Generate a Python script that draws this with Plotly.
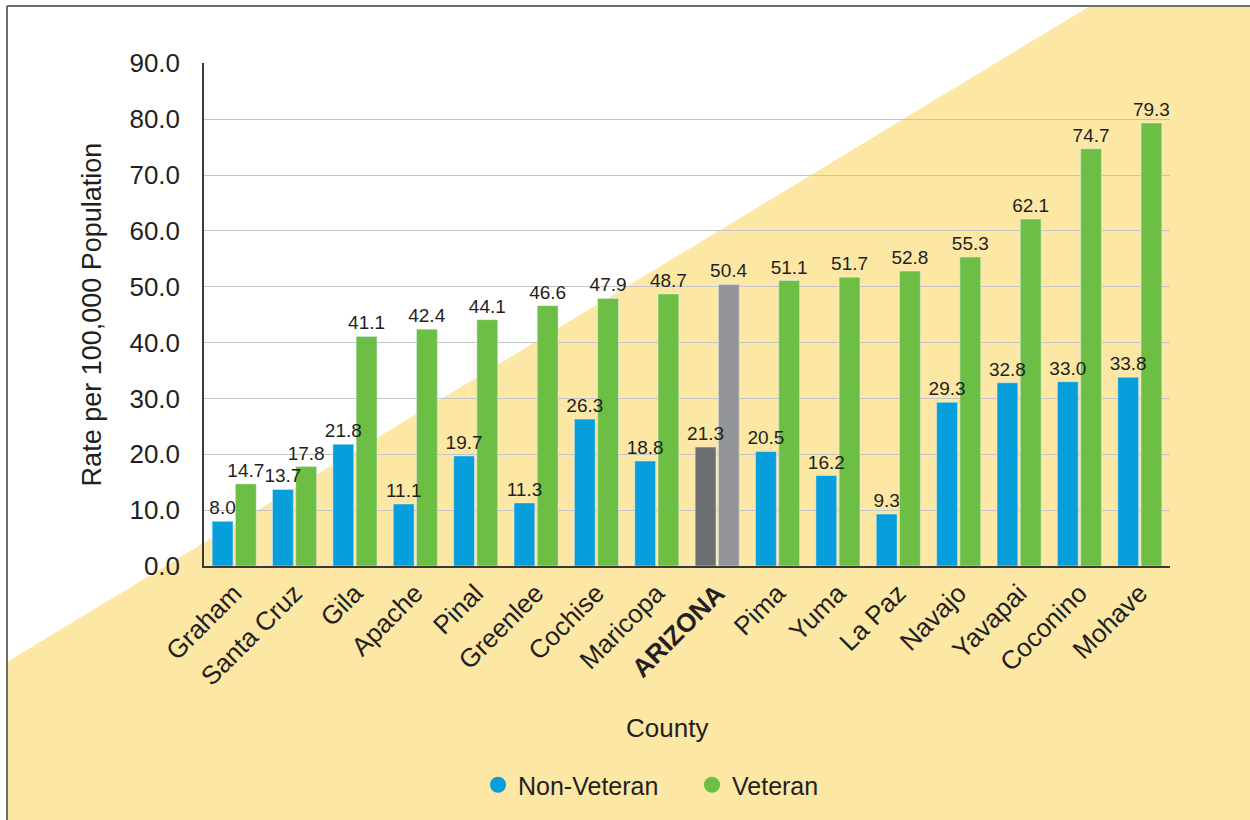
import plotly.graph_objects as go

counties = ["Graham", "Santa Cruz", "Gila", "Apache", "Pinal", "Greenlee", "Cochise",
            "Maricopa", "ARIZONA", "Pima", "Yuma", "La Paz", "Navajo", "Yavapai",
            "Coconino", "Mohave"]
non_veteran = [8.0, 13.7, 21.8, 11.1, 19.7, 11.3, 26.3, 18.8, 21.3, 20.5, 16.2, 9.3,
               29.3, 32.8, 33.0, 33.8]
veteran = [14.7, 17.8, 41.1, 42.4, 44.1, 46.6, 47.9, 48.7, 50.4, 51.1, 51.7, 52.8,
           55.3, 62.1, 74.7, 79.3]
tick_labels = [("<b>%s</b>" % c if c == "ARIZONA" else c) for c in counties]

BLUE = "#069FDB"
GREEN = "#6DBE45"
DARK_GREY = "#6D6E71"
LIGHT_GREY = "#939598"
TEXT = "#231F20"
FONT = "Liberation Sans, Arial, sans-serif"

nv_colors = [DARK_GREY if c == "ARIZONA" else BLUE for c in counties]
v_colors = [LIGHT_GREY if c == "ARIZONA" else GREEN for c in counties]

fig = go.Figure()
# veteran drawn first so the non-veteran labels sit on top of the green bars
fig.add_trace(go.Bar(x=counties, y=veteran, marker_color=v_colors,
                     offset=0.02, width=0.345,
                     text=[f"{v:.1f}" for v in veteran], textposition="outside",
                     constraintext="none",
                     textfont=dict(size=19, color=TEXT, family=FONT),
                     cliponaxis=False, showlegend=False, name="Veteran"))
fig.add_trace(go.Bar(x=counties, y=non_veteran, marker_color=nv_colors,
                     offset=-0.365, width=0.345,
                     text=[f"{v:.1f}" for v in non_veteran], textposition="outside",
                     constraintext="none",
                     textfont=dict(size=19, color=TEXT, family=FONT),
                     cliponaxis=False, showlegend=False, name="Non-Veteran"))
# legend entries with round markers
fig.add_trace(go.Scatter(x=[None], y=[None], mode="markers", name="Non-Veteran",
                         marker=dict(symbol="circle", size=18, color=BLUE)))
fig.add_trace(go.Scatter(x=[None], y=[None], mode="markers", name="Veteran",
                         marker=dict(symbol="circle", size=18, color=GREEN)))

# page geometry helpers (plot area 204..1170 x, 63..566 y)
L, R, T, B = 204, 1170, 63, 566
def px(x):
    return (x - L) / (R - L)
def py(y):
    return (B - y) / (B - T)

yellow_path = (f"M {px(7)},{py(662)} L {px(1090)},{py(6)} L {px(1250)},{py(6)} "
               f"L {px(1250)},{py(820)} L {px(7)},{py(820)} Z")

fig.update_layout(
    width=1250, height=820,
    margin=dict(l=L, r=1250 - R, t=T, b=820 - B, autoexpand=False),
    paper_bgcolor="white",
    plot_bgcolor="rgba(0,0,0,0)",
    font=dict(family=FONT, color=TEXT),
    barmode="overlay",
    shapes=[
        dict(type="path", xref="paper", yref="paper", path=yellow_path,
             fillcolor="#FDE7A5", line=dict(width=0), layer="below"),
        dict(type="line", xref="paper", yref="paper", x0=px(7), x1=px(1250),
             y0=py(6), y1=py(6), line=dict(color="#6D6D6D", width=2)),
        dict(type="line", xref="paper", yref="paper", x0=px(7), x1=px(7),
             y0=py(6), y1=py(820), line=dict(color="#6D6D6D", width=2)),
    ],
    xaxis=dict(tickmode="array", tickvals=counties, ticktext=tick_labels,
               tickangle=-45, tickfont=dict(size=26, color=TEXT),
               showline=True, linecolor="#3A3A3A", linewidth=1.5,
               showgrid=False, ticks=""),
    yaxis=dict(range=[0, 90.05], tickmode="array",
               tickvals=[0, 10, 20, 30, 40, 50, 60, 70, 80, 90], tickformat=".1f",
               tickfont=dict(size=26, color=TEXT),
               showgrid=True, gridcolor="#C4C4C4", gridwidth=1.2,
               showline=True, linecolor="#3A3A3A", linewidth=1.5,
               ticks="", ticklabelstandoff=17, zeroline=False,
               title=dict(text="Rate per 100,000 Population",
                          font=dict(size=27, color=TEXT), standoff=20)),
    legend=dict(orientation="h", x=px(478), xanchor="left", y=py(785),
                yanchor="middle", font=dict(size=25, color=TEXT),
                bgcolor="rgba(0,0,0,0)", itemwidth=30,
                entrywidth=169, entrywidthmode="pixels"),
    annotations=[dict(text="County", xref="paper", yref="paper", x=px(667), y=py(728),
                      xanchor="center", yanchor="middle", showarrow=False,
                      font=dict(size=26, color=TEXT))],
)

fig.write_html("out.html")
